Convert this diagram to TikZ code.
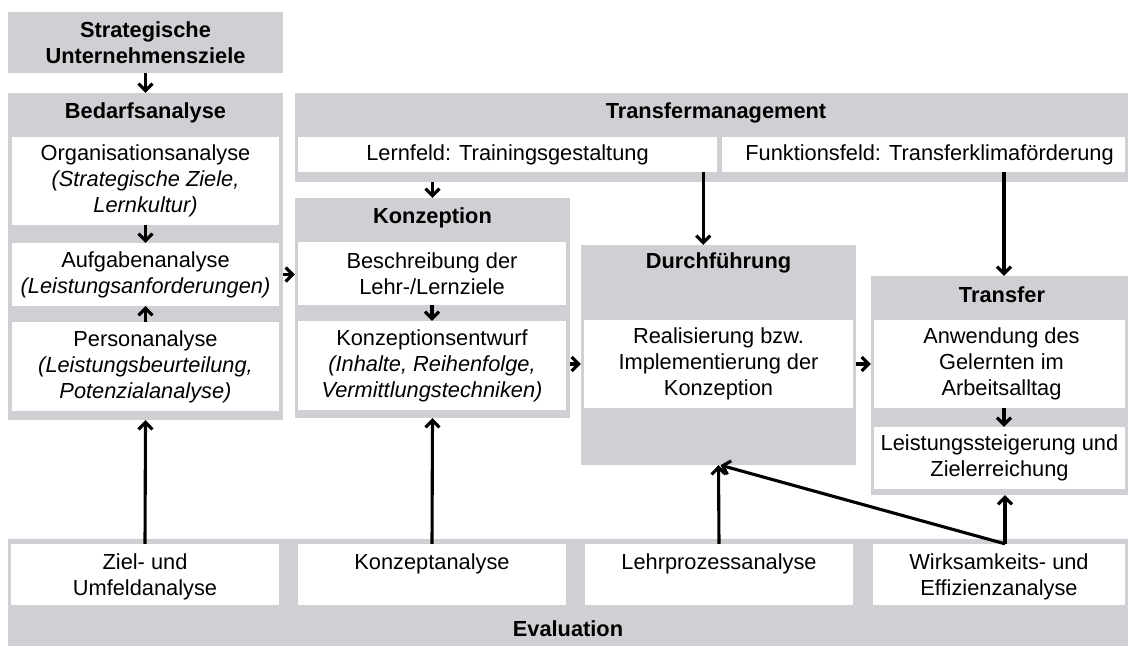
\documentclass[tikz,border=0pt]{standalone}
\usepackage{fontspec}
\setmainfont{Liberation Sans}
\usetikzlibrary{arrows.meta,fit}
\definecolor{panel}{RGB}{206,208,211}
\tikzset{
  gbox/.style={fill=panel, draw=none, inner sep=0pt},
  wbox/.style={fill=white, draw=none, inner sep=0pt},
  wtext/.style={inner sep=0pt, align=center, font=\fontsize{21.8}{26}\selectfont},
  head/.style={inner sep=0pt, align=center, font=\fontsize{21.8}{26}\selectfont\bfseries},
  arr/.style={line width=3.1pt, -{Straight Barb[length=7pt,width=14pt]}},
}
\begin{document}
\begin{tikzpicture}[x=1pt,y=-1pt]
\useasboundingbox (0,0) rectangle (1135,648);

% strategic goals
\node[gbox, fit={(8,12)(283,73)}] (ziele) {};
\node[head] (zieleT) at (ziele.center) {Strategische\\Unternehmensziele};

% needs analysis
\node[gbox, fit={(8,93)(283,420)}] (bedarf) {};
\node[head] (bedarfT) at (145.5,113) {Bedarfsanalyse};
\node[wbox, fit={(12,137)(279,225)}] (org) {};
\node[wtext] (orgT) at (org.center) {Organisationsanalyse\\\textit{(Strategische Ziele,}\\\textit{Lernkultur)}};
\node[wbox, fit={(12,243)(279,306)}] (aufg) {};
\node[wtext] (aufgT) at (aufg.center) {Aufgabenanalyse\\\textit{(Leistungsanforderungen)}};
\node[wbox, fit={(12,322)(279,411)}] (pers) {};
\node[wtext] (persT) at (pers.center) {Personanalyse\\\textit{(Leistungsbeurteilung,}\\\textit{Potenzialanalyse)}};

% transfer management
\node[gbox, fit={(295,93)(1128,182)}] (tm) {};
\node[head] (tmT) at (716,113) {Transfermanagement};
\node[wbox, fit={(298,137)(717,172)}] (lern) {};
\node[wtext] (lernT) at (lern.center) {Lernfeld: Trainingsgestaltung};
\node[wbox, fit={(722,137)(1125,172)}] (funk) {};
\node[wtext] (funkT) at ([xshift=6pt]funk.center) {Funktionsfeld: Transferklimaförderung};

% design
\node[gbox, fit={(295,198)(570,418)}] (konz) {};
\node[head] (konzT) at (432.5,218) {Konzeption};
\node[wbox, fit={(298,242)(566,305)}] (besch) {};
\node[wtext] (beschT) at (besch.center) {Beschreibung der\\Lehr-/Lernziele};
\node[wbox, fit={(298,321)(566,410)}] (entw) {};
\node[wtext] (entwT) at (entw.center) {Konzeptionsentwurf\\\textit{(Inhalte, Reihenfolge,}\\\textit{Vermittlungstechniken)}};

% implementation
\node[gbox, fit={(581,245)(856,465)}] (durch) {};
\node[head] (durchT) at (718.5,263) {Durchführung};
\node[wbox, fit={(584,320)(853,408)}] (real) {};
\node[wtext] (realT) at (real.center) {Realisierung bzw.\\Implementierung der\\Konzeption};

% transfer
\node[gbox, fit={(871,276)(1128,495)}] (transfer) {};
\node[head] (transferT) at (1002,295) {Transfer};
\node[wbox, fit={(874,320)(1125,408)}] (anw) {};
\node[wtext] (anwT) at ([xshift=2pt]anw.center) {Anwendung des\\Gelernten im\\Arbeitsalltag};
\node[wbox, fit={(874,427)(1125,489)}] (leist) {};
\node[wtext] (leistT) at (leist.center) {Leistungssteigerung und\\Zielerreichung};

% evaluation
\node[gbox, fit={(8,539)(1128,646)}] (eval) {};
\node[head] (evalT) at (568,629) {Evaluation};
\node[wbox, fit={(11,544)(279,605)}] (zu) {};
\node[wtext, anchor=north, yshift=-10pt] (zuT) at (zu.north) {Ziel- und\\Umfeldanalyse};
\node[wbox, fit={(298,544)(566,605)}] (kana) {};
\node[wtext, anchor=north, yshift=-10pt] (kanaT) at (kana.north) {Konzeptanalyse};
\node[wbox, fit={(585,544)(853,605)}] (lehr) {};
\node[wtext, anchor=north, yshift=-10pt] (lehrT) at (lehr.north) {Lehrprozessanalyse};
\node[wbox, fit={(873,544)(1125,605)}] (wirk) {};
\node[wtext, anchor=north, yshift=-10pt] (wirkT) at (wirk.north) {Wirksamkeits- und\\Effizienzanalyse};

% connectors
\draw[arr] (ziele.south) -- (bedarf.north);
\draw[arr] (org.south) -- (aufg.north);
\draw[arr] (pers.north) -- (aufg.south);
\draw[arr] (bedarf.east |- aufg.center) -- (konz.west |- aufg.center);
\draw[arr] (konz.north |- tm.south) -- (konz.north);
\draw[arr] ([xshift=-14pt]lern.south east) -- ([xshift=-14pt]lern.south east |- durch.north);
\draw[arr] ([xshift=4.5pt]transfer.north |- funk.south) -- ([xshift=4.5pt]transfer.north);
\draw[arr] (besch.south) -- (entw.north);
\draw[arr] (konz.east |- real.center) -- (durch.west |- real.center);
\draw[arr] (durch.east |- anw.center) -- (transfer.west |- anw.center);
\draw[arr] ([xshift=4.5pt]anw.south) -- ([xshift=4.5pt]leist.north);
\draw[arr] (zu.north) -- (bedarf.south);
\draw[arr] (kana.north) -- (konz.south);
\draw[arr] (lehr.north) -- (durch.south);
\draw[arr] ([xshift=6pt]wirk.north) -- ([xshift=6pt]wirk.north |- transfer.south);
\draw[arr] ([xshift=6pt]wirk.north) -- ([xshift=2pt]durch.south);
\end{tikzpicture}
\end{document}
